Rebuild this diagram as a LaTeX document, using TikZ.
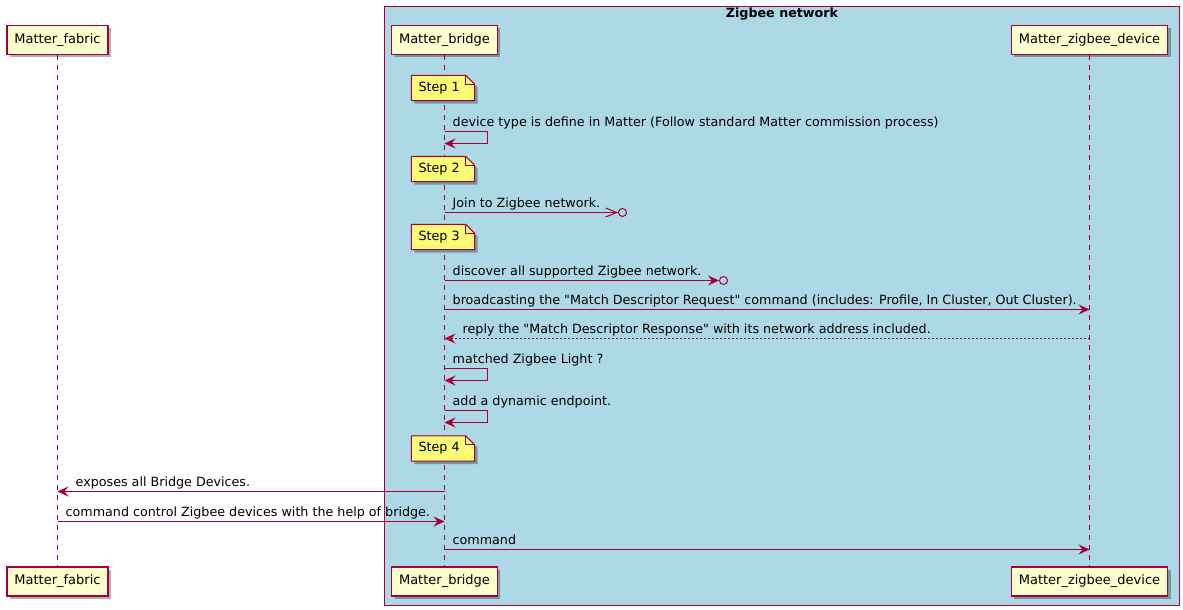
\documentclass[tikz,border=0pt]{standalone}
\usepackage{fontspec}
\setmainfont{DejaVu Sans}
\usetikzlibrary{arrows.meta}
\usetikzlibrary{positioning}
\usetikzlibrary{calc}
\usetikzlibrary{shadows}
\definecolor{myred}{HTML}{A80036}
\definecolor{mycream}{HTML}{FEFECE}
\definecolor{mynoteyellow}{HTML}{FBFB77}
\definecolor{myblue}{HTML}{ADD8E6}
\pgfdeclarelayer{back}
\pgfdeclarelayer{mid}
\pgfsetlayers{back,mid,main}
\newcommand\q{\textquotedbl}
\newcommand\mypart[3]{%
  \node[mypart] (#1top) at (#2,39.5) {#3};
  \node[mypart] (#1bot) at (#2,581) {#3};
  \begin{pgfonlayer}{back}
    \draw[lifeline] (#1top) -- (#1bot);
  \end{pgfonlayer}
}
\newcommand\mynote[3]{%
  \node[mynote] (#1) at (442.5,#2) {#3};
  \begin{pgfonlayer}{mid}
    \path[mynotefill] (#1.south west) -- (#1.north west) -- ([xshift=-9bp]#1.north east)
      -- ([yshift=-9bp]#1.north east) -- (#1.south east) -- cycle;
    \draw[myred, line width=1bp] ([xshift=-9bp]#1.north east) |- ([yshift=-9bp]#1.north east);
  \end{pgfonlayer}
}

\begin{document}
\begin{tikzpicture}[
x=1bp, y=-1bp,
every node/.style={font=\fontsize{12.7bp}{15bp}\selectfont},
mypart/.style={
  rectangle,
  draw=myred,
  line width=1.5bp,
  fill=mycream,
  minimum height=29bp,
  inner xsep=7.5bp,
  font=\fontsize{13bp}{15bp}\selectfont,
  drop shadow={shadow xshift=3bp, shadow yshift=-3bp, opacity=0.3, fill=black}},
mynote/.style={minimum height=25bp, text width=49bp, inner xsep=7bp, inner ysep=0bp, align=left},
mynotefill/.style={
  fill=mynoteyellow,
  draw=myred,
  line width=1bp,
  drop shadow={shadow xshift=3bp, shadow yshift=-3bp, opacity=0.3, fill=black}},
zigbeebox/.style={rectangle, draw=myred, line width=1bp, fill=myblue, inner sep=0bp,
  minimum width=795bp, minimum height=599bp},
lifeline/.style={color=myred, line width=1bp, dash pattern=on 5bp off 5bp},
msg/.style={color=myred, line width=1bp, -{Stealth[length=11bp, width=10bp, inset=4bp]}},
reply/.style={msg, dash pattern=on 2bp off 2bp},
lostmsg/.style={color=myred, line width=1bp, -{Straight Barb[length=11bp, width=9bp]}},
lostend/.style={circle, draw=myred, line width=1bp, inner sep=0bp, minimum size=8bp},
msgtext/.style={anchor=base west, inner sep=0bp, text=black}
]
\useasboundingbox (-0.5,-0.5) rectangle (1182.5,609.5);
\begin{pgfonlayer}{back}
  \node[zigbeebox] (zigbee) at (781.5,305.5) {};
\end{pgfonlayer}
\node[font=\fontsize{12.7bp}{15bp}\selectfont\bfseries, anchor=base] (zigbeetitle) at ([yshift=-12bp]zigbee.north) {Zigbee network};

\mypart{fabric}{57}{Matter\_fabric}
\mypart{bridge}{444}{Matter\_bridge}
\mypart{device}{1089}{Matter\_zigbee\_device}

\mynote{step1}{87.5}{Step 1}
\mynote{step2}{168.5}{Step 2}
\mynote{step3}{236.5}{Step 3}
\mynote{step4}{448}{Step 4}

\coordinate (b1) at (bridgetop |- 0,131);
\coordinate (b1r) at (bridgetop |- 0,143);
\draw[msg] (b1) -- ++(43,0) |- (b1r);
\node[msgtext] (t1) at ([shift={(8bp,5bp)}]b1) {device type is define in Matter (Follow standard Matter commission process)};

\coordinate (b2) at (bridgetop |- 0,212);
\node[lostend] (lost1) at (622,212) {};
\draw[lostmsg] (b2) -- (lost1);
\node[msgtext] (t2) at ([shift={(8bp,5bp)}]b2) {Join to Zigbee network.};

\coordinate (b3) at (bridgetop |- 0,280);
\node[lostend] (lost2) at (723,280) {};
\draw[msg] (b3) -- (lost2);
\node[msgtext] (t3) at ([shift={(8bp,5bp)}]b3) {discover all supported Zigbee network.};

\coordinate (b4) at (bridgetop |- 0,309);
\coordinate (d4) at (devicetop |- 0,309);
\draw[msg] (b4) -- (d4);
\node[msgtext] (t4) at ([shift={(8bp,5bp)}]b4) {broadcasting the \q Match Descriptor Request\q{} command (includes: Profile, In Cluster, Out Cluster).};

\coordinate (b5) at (bridgetop |- 0,338);
\coordinate (d5) at (devicetop |- 0,338);
\draw[reply] (d5) -- (b5);
\node[msgtext] (t5) at ([shift={(18bp,5bp)}]b5) {reply the \q Match Descriptor Response\q{} with its network address included.};

\coordinate (b6) at (bridgetop |- 0,368);
\coordinate (b6r) at (bridgetop |- 0,380);
\draw[msg] (b6) -- ++(43,0) |- (b6r);
\node[msgtext] (t6) at ([shift={(8bp,5bp)}]b6) {matched Zigbee Light ?};

\coordinate (b7) at (bridgetop |- 0,410);
\coordinate (b7r) at (bridgetop |- 0,422);
\draw[msg] (b7) -- ++(43,0) |- (b7r);
\node[msgtext] (t7) at ([shift={(8bp,5bp)}]b7) {add a dynamic endpoint.};

\coordinate (b8) at (bridgetop |- 0,491);
\coordinate (f8) at (fabrictop |- 0,491);
\draw[msg] (b8) -- (f8);
\node[msgtext] (t8) at ([shift={(18bp,5bp)}]f8) {exposes all Bridge Devices.};

\coordinate (f9) at (fabrictop |- 0,521);
\coordinate (b9) at (bridgetop |- 0,521);
\draw[msg] (f9) -- (b9);
\node[msgtext] (t9) at ([shift={(8bp,5bp)}]f9) {command control Zigbee devices with the help of bridge.};

\coordinate (b10) at (bridgetop |- 0,549);
\coordinate (d10) at (devicetop |- 0,549);
\draw[msg] (b10) -- (d10);
\node[msgtext] (t10) at ([shift={(8bp,5bp)}]b10) {command};
\end{tikzpicture}
\end{document}
